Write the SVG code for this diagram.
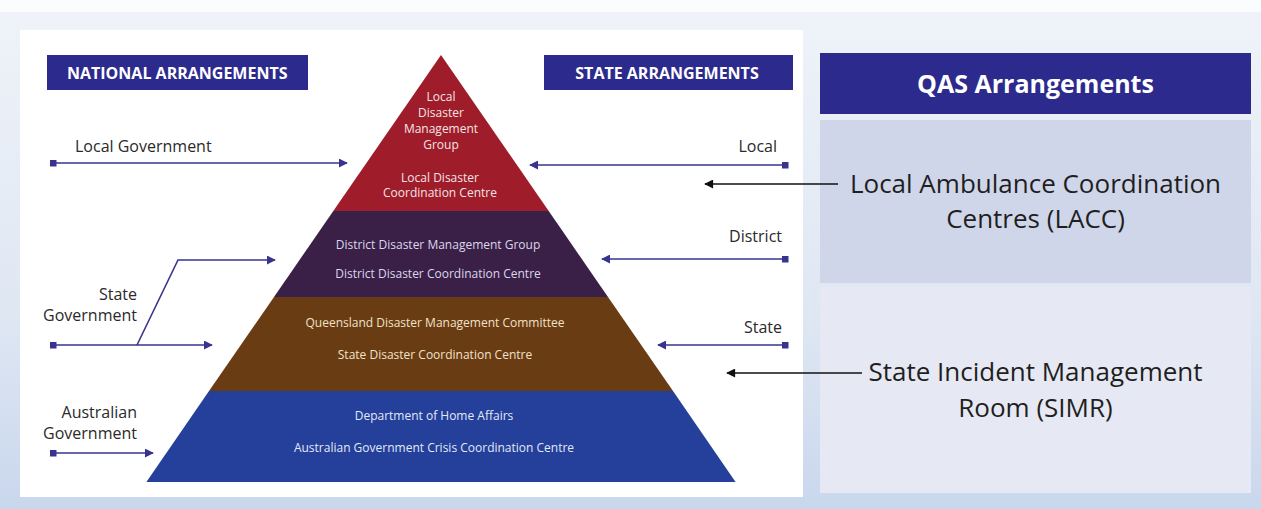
<svg xmlns="http://www.w3.org/2000/svg" width="1261" height="509" viewBox="0 0 1261 509">
  <defs>
    <linearGradient id="bgGrad" x1="0" y1="0" x2="0" y2="1">
      <stop offset="0" stop-color="#eff3f9"/>
      <stop offset="0.6" stop-color="#dfe7f3"/>
      <stop offset="1" stop-color="#c9d7ed"/>
    </linearGradient>
    <marker id="tipBlue" viewBox="0 0 10 10" refX="9" refY="5" markerWidth="9" markerHeight="9" markerUnits="userSpaceOnUse" orient="auto">
      <path d="M0,0 L10,5 L0,10 z" fill="#38338e"/>
    </marker>
    <marker id="sqBlue" viewBox="0 0 10 10" refX="5" refY="5" markerWidth="7" markerHeight="7" markerUnits="userSpaceOnUse" orient="auto">
      <rect x="0" y="0" width="10" height="10" fill="#38338e"/>
    </marker>
    <marker id="tipBlack" viewBox="0 0 10 10" refX="9" refY="5" markerWidth="11" markerHeight="9" markerUnits="userSpaceOnUse" orient="auto">
      <path d="M0,0 L10,5 L0,10 z" fill="#111"/>
    </marker>
    <style>
      .hdr { fill: #2c2a8c; }
      .hdrText { font-family: "Open Sans", "Liberation Sans", sans-serif; font-weight: 700; font-size: 16px; fill: #ffffff; }
      .side { font-family: "Open Sans", "Liberation Sans", sans-serif; font-size: 16px; fill: #2a2a2a; }
      .tier { font-family: "Open Sans", "Liberation Sans", sans-serif; font-size: 12px; text-anchor: middle; }
      .link { fill: none; stroke: #38338e; stroke-width: 1.6; }
      .callout { fill: none; stroke: #111; stroke-width: 1.3; }
      .qas { font-family: "Open Sans", "Liberation Sans", sans-serif; font-size: 26px; fill: #1f1f1f; text-anchor: middle; }
    </style>
  </defs>

  <!-- page backdrop -->
  <rect x="0" y="0" width="1261" height="509" fill="#fbfcfd"/>
  <rect x="0" y="12" width="1261" height="497" fill="url(#bgGrad)"/>
  <!-- white card holding the pyramid -->
  <rect x="20" y="30" width="783" height="467" fill="#ffffff"/>

  <!-- column headers -->
  <g id="national-header">
    <rect class="hdr" x="47" y="55" width="261" height="35"/>
    <text class="hdrText" x="67" y="79">NATIONAL  ARRANGEMENTS</text>
  </g>
  <g id="state-header">
    <rect class="hdr" x="544" y="55" width="249" height="35"/>
    <text class="hdrText" x="667" y="79" text-anchor="middle">STATE  ARRANGEMENTS</text>
  </g>

  <!-- pyramid tiers -->
  <g id="tier-local">
    <polygon points="441,55 548.7,211 333.3,211" fill="#9f1c2b"/>
    <g class="tier" fill="#f3e4e4">
      <text x="441" y="101">Local</text>
      <text x="441" y="117">Disaster</text>
      <text x="441" y="133">Management</text>
      <text x="441" y="149">Group</text>
      <text x="440" y="182">Local Disaster</text>
      <text x="440" y="197">Coordination Centre</text>
    </g>
  </g>
  <g id="tier-district">
    <polygon points="333.3,211 548.7,211 608,297 274,297" fill="#3a2047"/>
    <g class="tier" fill="#ddd6ea">
      <text x="438" y="249">District Disaster Management Group</text>
      <text x="438" y="278">District Disaster Coordination  Centre</text>
    </g>
  </g>
  <g id="tier-state">
    <polygon points="274,297 608,297 673,391 209,391" fill="#6a3c14"/>
    <g class="tier" fill="#f2e2c8">
      <text x="435" y="327">Queensland Disaster Management Committee</text>
      <text x="435" y="359">State Disaster Coordination  Centre</text>
    </g>
  </g>
  <g id="tier-australian">
    <polygon points="209,391 673,391 735.6,482 146.4,482" fill="#24409a"/>
    <g class="tier" fill="#e3e9f8">
      <text x="434" y="420">Department of Home Affairs</text>
      <text x="434" y="452">Australian Government Crisis Coordination  Centre</text>
    </g>
  </g>

  <!-- side labels -->
  <g id="label-local-government">
    <text class="side" x="75" y="152">Local Government</text>
  </g>
  <g id="label-state-government">
    <text class="side" x="137" y="300" text-anchor="end">State</text>
    <text class="side" x="137" y="321" text-anchor="end">Government</text>
  </g>
  <g id="label-australian-government">
    <text class="side" x="137" y="418" text-anchor="end">Australian</text>
    <text class="side" x="137" y="439" text-anchor="end">Government</text>
  </g>
  <g id="label-local">
    <text class="side" x="777" y="152" text-anchor="end">Local</text>
  </g>
  <g id="label-district">
    <text class="side" x="782" y="242" text-anchor="end">District</text>
  </g>
  <g id="label-state">
    <text class="side" x="782" y="333" text-anchor="end">State</text>
  </g>

  <!-- QAS panel -->
  <g id="qas-header">
    <rect x="820" y="53" width="431" height="61" fill="#2c2a8c"/>
    <text x="1035.5" y="93" font-family="'Open Sans', 'Liberation Sans', sans-serif" font-weight="700" font-size="25" fill="#ffffff" text-anchor="middle">QAS Arrangements</text>
  </g>
  <g id="qas-lacc">
    <rect x="820" y="120" width="431" height="163" fill="#cfd6e9"/>
    <text class="qas" x="1035.5" y="193">Local Ambulance Coordination</text>
    <text class="qas" x="1035.5" y="228">Centres (LACC)</text>
  </g>
  <g id="qas-simr">
    <rect x="820" y="287" width="431" height="206" fill="#e6e9f3"/>
    <text class="qas" x="1035.5" y="381">State Incident Management</text>
    <text class="qas" x="1035.5" y="417">Room (SIMR)</text>
  </g>

  <!-- connectors -->
  <g id="connectors">
    <line class="link" x1="53" y1="163" x2="347" y2="163" marker-start="url(#sqBlue)" marker-end="url(#tipBlue)"/>
    <line class="link" x1="53" y1="345" x2="212" y2="345" marker-start="url(#sqBlue)" marker-end="url(#tipBlue)"/>
    <polyline class="link" points="137,345 178,260 275,260" marker-end="url(#tipBlue)"/>
    <line class="link" x1="53" y1="453" x2="153" y2="453" marker-start="url(#sqBlue)" marker-end="url(#tipBlue)"/>
    <line class="link" x1="785" y1="165" x2="530" y2="165" marker-start="url(#sqBlue)" marker-end="url(#tipBlue)"/>
    <line class="link" x1="785" y1="259" x2="602" y2="259" marker-start="url(#sqBlue)" marker-end="url(#tipBlue)"/>
    <line class="link" x1="785" y1="345" x2="658" y2="345" marker-start="url(#sqBlue)" marker-end="url(#tipBlue)"/>
    <line class="callout" x1="838" y1="184" x2="705" y2="184" marker-end="url(#tipBlack)"/>
    <line class="callout" x1="862" y1="373" x2="727" y2="373" marker-end="url(#tipBlack)"/>
  </g>
</svg>
